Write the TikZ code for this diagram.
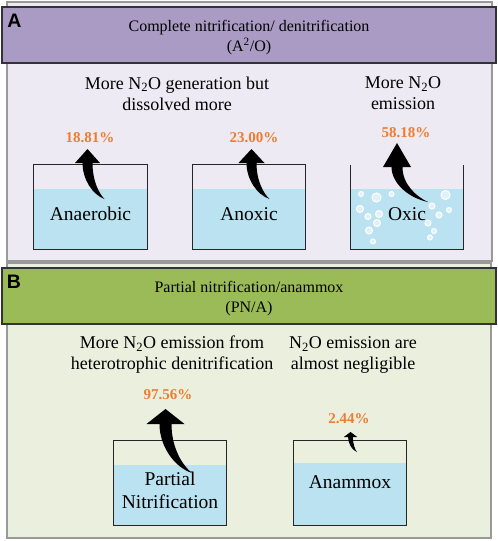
\documentclass[tikz,border=0pt]{standalone}
\usepackage{fontspec}
\setmainfont{Liberation Serif}
\newfontfamily\panelfont{Liberation Sans}
\usepackage{tikz}
\usetikzlibrary{calc}
\definecolor{headA}{RGB}{169,155,196}
\definecolor{backA}{RGB}{238,234,243}
\definecolor{headB}{RGB}{155,187,89}
\definecolor{backB}{RGB}{235,240,222}
\definecolor{waterblue}{RGB}{187,226,240}
\definecolor{pctorange}{RGB}{237,125,49}
\begin{document}
\begin{tikzpicture}
[x=1pt,y=-1pt,
  framedecorate/.style={draw=black!40,line width=1.2pt},%
  headdecorate/.style={draw=black!80,line width=1.4pt},%
  headtext/.style={align=center,font=\rmfamily\fontsize{16}{20}\selectfont},%
  notetext/.style={align=center,font=\rmfamily\fontsize{18}{21}\selectfont},%
  pcttext/.style={text=pctorange,font=\rmfamily\fontsize{15}{18}\selectfont\bfseries},%
  tankdecorate/.style={minimum width=113pt,minimum height=84pt,inner sep=0pt},%
  tankwall/.style={draw=black!85,line width=1.1pt},%
  tanktext/.style={align=center,font=\rmfamily\fontsize{19.5}{23}\selectfont},%
  panellabel/.style={font=\panelfont\fontsize{19.5}{22}\selectfont\bfseries},%
  bubble/.style={draw=white,fill=white!55!waterblue,line width=1pt}]
\useasboundingbox (0,0) rectangle (498,541);
%% panel frames and headers
\path[fill=backA,framedecorate] (7,2) rectangle (492,261);
\path[fill=backB,framedecorate] (7,263) rectangle (491,538);
\node (headA) at (249,35) [fill=headA,headdecorate,minimum width=494pt,minimum height=56pt] {};
\node (headB) at (249,296) [fill=headB,headdecorate,minimum width=494pt,minimum height=56pt] {};
\node [headtext] at ($(headA)+(0,3)$) {Complete nitrification/ denitrification\\(A\textsuperscript{2}/O)};
\node [headtext] at ($(headB)+(0,3)$) {Partial nitrification/anammox\\(PN/A)};
\node [panellabel] at (14.5,21) {A};
\node [panellabel] at (14,281.5) {B};
%% tanks with water
\foreach \tankname/\x/\y/\level in {anaerobic/90.5/207/189, anoxic/249/207/189,
  oxic/407/207/189, partial/170/483/465, anammox/350/483/463}
{
  \node (\tankname) at (\x,\y) [tankdecorate] {};
  \fill[waterblue] (\tankname.south west) rectangle (\tankname.east |- 0,\level);
}
\foreach \tankname in {anaerobic, anoxic, partial, anammox}
{
  \draw[tankwall] (\tankname.north west) rectangle (\tankname.south east);
}
\draw[tankwall] (oxic.north west) -- (oxic.south west) -- (oxic.south east) -- (oxic.north east);
%% air bubbles in the oxic tank
\foreach \bx/\by/\br in {361/194/2.5, 376.5/197.5/4.5, 391.5/194/2.5, 360/209/3.5,
  368/216.5/3, 379/214/3.5, 377/223/3.5, 369/230.5/3.5, 373/241.5/2.5, 445.5/195/4.5,
  449/210/2.5, 432/206/3, 439/215/3, 428/223/3, 434/231/2.5, 430/237.5/2.5}
{
  \draw[bubble] (\bx,\by) circle[radius=\br pt];
}
%% emission arrows
\foreach \ax/\ay/\hw/\hh/\sw/\tx/\ty in {87.5/149/12.5/14/5/17/50, 251.5/149/13/14/5/18/50,
  397/143/14/24/5.5/31/59, 165.5/409/19/15/6/26.5/64, 350.5/432/6.7/5/2.4/6.5/20}
{
  \pgfmathsetmacro\len{\ty-\hh}
  \fill[black,shift={(\ax,\ay)}] (0,0) -- (\hw,\hh) -- (\sw,\hh)
    .. controls (\sw,{\hh+0.5*\len}) and ({\tx-0.45*(\tx-\sw)},{\ty-0.15*\len}) .. (\tx,\ty)
    .. controls ({\tx-0.55*(\tx+\sw)},{\ty-0.12*\len}) and (-\sw,{\hh+0.45*\len}) .. (-\sw,\hh)
    -- (-\hw,\hh) -- cycle;
}
%% texts
\node [tanktext] at (anaerobic |- 0,214) {Anaerobic};
\node [tanktext] at (anoxic |- 0,214) {Anoxic};
\node [tanktext] at (oxic |- 0,214) {Oxic};
\node [tanktext] at (partial |- 0,490.5) {Partial\\Nitrification};
\node [tanktext] at (anammox |- 0,482) {Anammox};
\node [notetext] at (177,93.5) {More N\textsubscript{2}O generation but\\dissolved more};
\node [notetext] at (403,93.5) {More N\textsubscript{2}O\\emission};
\node [notetext] at (172,355) {More N\textsubscript{2}O emission from\\heterotrophic denitrification};
\node [notetext] at (353,355) {N\textsubscript{2}O emission are\\almost negligible};
\foreach \pct/\x/\y in {18.81/90/138, 23.00/254/138, 58.18/406/133, 97.56/168/395, 2.44/349/419}
{
  \node [pcttext] at (\x,\y) {\pct\%};
}
\end{tikzpicture}
\end{document}
